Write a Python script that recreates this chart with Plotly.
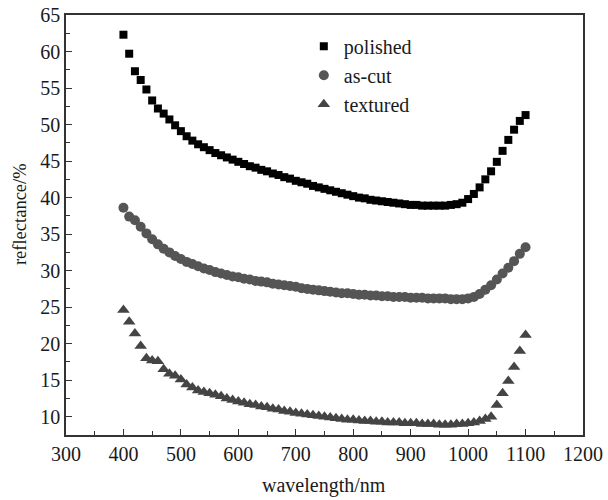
import plotly.graph_objects as go

wavelength = list(range(400, 1101, 10))

polished = [62.3, 59.7, 57.3, 56.1, 54.8, 53.3, 52.2, 51.5, 50.7, 49.9,
            49.1, 48.4, 47.8, 47.3, 46.9, 46.5, 46.1, 45.8, 45.5, 45.2,
            44.9, 44.6, 44.3, 44.1, 43.8, 43.6, 43.3, 43.1, 42.8, 42.6,
            42.3, 42.1, 41.9, 41.6, 41.4, 41.2, 41.0, 40.8, 40.6, 40.4,
            40.2, 40.0, 39.9, 39.7, 39.6, 39.5, 39.4, 39.3, 39.2, 39.1,
            39.0, 39.0, 38.9, 38.9, 38.9, 38.9, 38.9, 39.0, 39.1, 39.3,
            39.8, 40.5, 41.4, 42.5, 43.6, 44.9, 46.4, 47.9, 49.3, 50.5,
            51.3]

as_cut = [38.6, 37.4, 36.9, 36.0, 35.1, 34.3, 33.6, 33.0, 32.5, 32.0,
          31.6, 31.2, 30.9, 30.6, 30.3, 30.1, 29.8, 29.6, 29.4, 29.2,
          29.1, 28.9, 28.8, 28.6, 28.5, 28.4, 28.2, 28.1, 28.0, 27.9,
          27.8, 27.6, 27.5, 27.4, 27.3, 27.2, 27.1, 27.0, 26.9, 26.9,
          26.8, 26.7, 26.7, 26.6, 26.6, 26.5, 26.5, 26.4, 26.4, 26.4,
          26.3, 26.3, 26.3, 26.2, 26.2, 26.2, 26.2, 26.1, 26.1, 26.1,
          26.2, 26.4, 26.8, 27.4, 28.0, 28.8, 29.6, 30.4, 31.3, 32.3,
          33.2]

textured = [24.6, 23.0, 21.4, 19.7, 18.0, 17.7, 17.6, 16.5, 15.9, 15.6,
            15.1, 14.4, 14.0, 13.6, 13.4, 13.2, 13.0, 12.8, 12.5, 12.3,
            12.1, 11.9, 11.7, 11.6, 11.4, 11.3, 11.1, 11.0, 10.8, 10.7,
            10.5, 10.4, 10.3, 10.2, 10.1, 10.0, 9.9, 9.8, 9.7, 9.6,
            9.6, 9.5, 9.4, 9.4, 9.3, 9.3, 9.2, 9.2, 9.2, 9.1,
            9.1, 9.1, 9.0, 9.0, 9.0, 8.9, 8.9, 8.9, 9.0, 9.0,
            9.1, 9.2, 9.4, 9.7, 10.0, 11.6, 13.2, 14.9, 16.8, 19.0,
            21.2]

x_ticks = list(range(300, 1201, 100))
y_ticks = list(range(10, 66, 5))

FONT = "Liberation Serif"
TXT = "#1a1a1a"

fig = go.Figure()
fig.add_trace(go.Scatter(x=wavelength, y=polished, mode="markers", name="polished",
                         marker=dict(symbol="square", size=8, color="#000000")))
fig.add_trace(go.Scatter(x=wavelength, y=as_cut, mode="markers", name="as-cut",
                         marker=dict(symbol="circle", size=10, color="#555555")))
fig.add_trace(go.Scatter(x=wavelength, y=textured, mode="markers", name="textured",
                         marker=dict(symbol="triangle-up", size=11, color="#444444")))

axis_common = dict(showgrid=False, zeroline=False, showline=True, linecolor="#333333",
                   linewidth=1.5, mirror=True, ticks="inside", ticklen=6, tickwidth=1.2,
                   tickcolor="#333333", automargin=False,
                   tickfont=dict(family=FONT, size=20, color=TXT))

fig.update_xaxes(range=[300, 1200], tickvals=x_ticks,
                 minor=dict(ticks="inside", ticklen=4, tickwidth=1.2, tickcolor="#333333", dtick=50),
                 **axis_common)
fig.update_yaxes(range=[7.5, 65], tickvals=y_ticks,
                 minor=dict(ticks="inside", ticklen=4, tickwidth=1.2, tickcolor="#333333", dtick=2.5, tick0=7.5),
                 **axis_common)

fig.add_annotation(text="wavelength/nm", xref="paper", yref="paper", x=0.499, y=-0.121,
                   xanchor="center", yanchor="middle", showarrow=False,
                   font=dict(family=FONT, size=20, color=TXT))
fig.add_annotation(text="reflectance/%", xref="paper", yref="paper", x=-0.089, y=0.526,
                   xanchor="center", yanchor="middle", showarrow=False, textangle=-90,
                   font=dict(family=FONT, size=18.5, color=TXT))

fig.update_layout(
    width=608, height=500,
    margin=dict(l=66, r=25, t=15, b=65),
    plot_bgcolor="white", paper_bgcolor="white",
    font=dict(family=FONT, color=TXT),
    legend=dict(x=0.46, y=0.972, xanchor="left", yanchor="top",
                bgcolor="rgba(0,0,0,0)", font=dict(family=FONT, size=20, color=TXT),
                itemwidth=30),
    showlegend=True,
)

# remove the default 8px body margin so the figure sits at the page's top-left corner
fig.write_html("out.html", config={"displayModeBar": False},
               post_script="document.body.style.margin='0px';")
